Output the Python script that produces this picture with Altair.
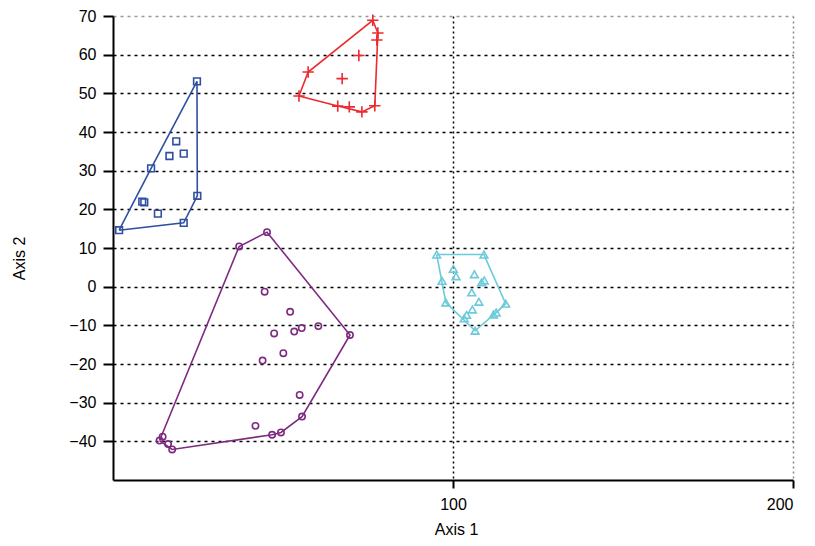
import altair as alt
import pandas as pd

# ---- data ----
blue_x = [24.7, 18.6, 16.6, 20.8, 11.2, 8.6, 9.2, 13.2, 24.8, 20.8, 1.8]
blue_y = [53.1, 37.6, 33.8, 34.4, 30.6, 22.0, 21.8, 18.9, 23.5, 16.5, 14.6]

red_x = [76.4, 77.9, 77.6, 72.3, 67.4, 57.4, 54.7, 66.1, 69.5, 73.2, 77.0]
red_y = [68.9, 65.6, 63.8, 59.8, 53.8, 55.5, 49.3, 46.7, 46.5, 45.2, 46.8]

cyan_x = [95.2, 109.1, 100.1, 100.9, 106.3, 96.8, 108.4, 109.2, 105.5, 97.9,
          107.6, 115.5, 105.7, 103.3, 104.0, 111.9, 112.7, 106.5]
cyan_y = [8.3, 8.3, 4.6, 2.7, 3.2, 1.5, 1.1, 1.6, -1.5, -4.1,
          -3.9, -4.4, -5.9, -8.2, -7.3, -7.2, -6.7, -11.4]

purple_x = [45.3, 37.1, 44.6, 52.1, 60.4, 55.5, 53.3, 47.4, 69.7, 50.1,
            44.0, 54.9, 55.6, 41.9, 49.4, 46.8, 14.6, 13.7, 16.2, 17.4]
purple_y = [14.1, 10.4, -1.3, -6.5, -10.2, -10.7, -11.6, -12.1, -12.5, -17.2,
            -19.1, -28.0, -33.6, -36.0, -37.7, -38.3, -38.8, -39.8, -40.7, -42.1]

groups = ["blue", "red", "cyan", "purple"]
colors = ["#2F4FA2", "#EC2A2F", "#6DCAD9", "#7D2B80"]
xs = [blue_x, red_x, cyan_x, purple_x]
ys = [blue_y, red_y, cyan_y, purple_y]
shapes = [
    "square",
    "M-1,0H1M0,-1V1",
    "triangle-up",
    "circle",
]
sizes = [45, 130, 60, 40]

y_ticks = [-40, -30, -20, -10, 0, 10, 20, 30, 40, 50, 60, 70]
x_ticks = [100, 200]


def hull(pts):
    pts = sorted(set(pts))
    def cross(o, a, b):
        return (a[0] - o[0]) * (b[1] - o[1]) - (a[1] - o[1]) * (b[0] - o[0])
    lower, upper = [], []
    for p in pts:
        while len(lower) >= 2 and cross(lower[-2], lower[-1], p) <= 0:
            lower.pop()
        lower.append(p)
    for p in reversed(pts):
        while len(upper) >= 2 and cross(upper[-2], upper[-1], p) <= 0:
            upper.pop()
        upper.append(p)
    h = lower[:-1] + upper[:-1]
    return h + [h[0]]


pt_rows, hull_rows = [], []
for g, gx, gy in zip(groups, xs, ys):
    for a, b in zip(gx, gy):
        pt_rows.append({"g": g, "x": a, "y": b})
    for i, (a, b) in enumerate(hull(list(zip(gx, gy)))):
        hull_rows.append({"g": g, "x": a, "y": b, "o": i})

pts = pd.DataFrame(pt_rows)
hulls = pd.DataFrame(hull_rows)

xscale = alt.Scale(domain=[0, 200], nice=False, zero=False)
yscale = alt.Scale(domain=[-50, 70], nice=False, zero=False)
cscale = alt.Scale(domain=groups, range=colors)

xaxis = alt.Axis(
    values=x_ticks, title="Axis 1", grid=True,
    gridColor={"condition": {"test": "datum.value == 200", "value": "#888888"}, "value": "#000000"},
    gridDash=[2, 3], gridWidth=1.5,
    domainColor="black", domainWidth=2, tickColor="black", tickWidth=2, tickSize=8,
    labelFont="Liberation Sans", labelFontSize=16, labelColor="black", labelPadding=8,
    titleFont="Liberation Sans", titleFontSize=16, titleFontWeight="normal", titleColor="black",
    titleX=343, titleY=57, titleBaseline="bottom",
)
yaxis = alt.Axis(
    values=y_ticks, title="Axis 2", grid=True,
    gridColor={"condition": {"test": "datum.value == 70", "value": "#999999"}, "value": "#000000"},
    gridDash=[3, 4], gridWidth=1.5,
    domainColor="black", domainWidth=2, tickColor="black", tickWidth=2, tickSize=10,
    labelFont="Liberation Sans", labelFontSize=16, labelColor="black", labelPadding=7,
    titleFont="Liberation Sans", titleFontSize=16, titleFontWeight="normal", titleColor="black",
    titleX=-94, titleY=242, titleBaseline="middle", titleAngle=-90,
)

lines = alt.Chart(hulls).mark_line(strokeWidth=1.6).encode(
    x=alt.X("x:Q", scale=xscale, axis=xaxis),
    y=alt.Y("y:Q", scale=yscale, axis=yaxis),
    color=alt.Color("g:N", scale=cscale, legend=None),
    detail="g:N",
    order="o:Q",
)

layers = [lines]
for g, shp, sz in zip(groups, shapes, sizes):
    layers.append(
        alt.Chart(pts).transform_filter(alt.datum.g == g).mark_point(
            shape=shp, size=sz, strokeWidth=1.6, filled=False, opacity=1
        ).encode(
            x="x:Q", y="y:Q",
            color=alt.Color("g:N", scale=cscale, legend=None),
        )
    )

chart = alt.layer(*layers).properties(
    width=680, height=464,
    autosize=alt.AutoSizeParams(type="none"),
    padding={"left": 105, "top": 8, "right": 10, "bottom": 58},
    background="white",
).configure_view(stroke=None)

chart.save("out.html", embed_options={"renderer": "svg", "actions": False})
